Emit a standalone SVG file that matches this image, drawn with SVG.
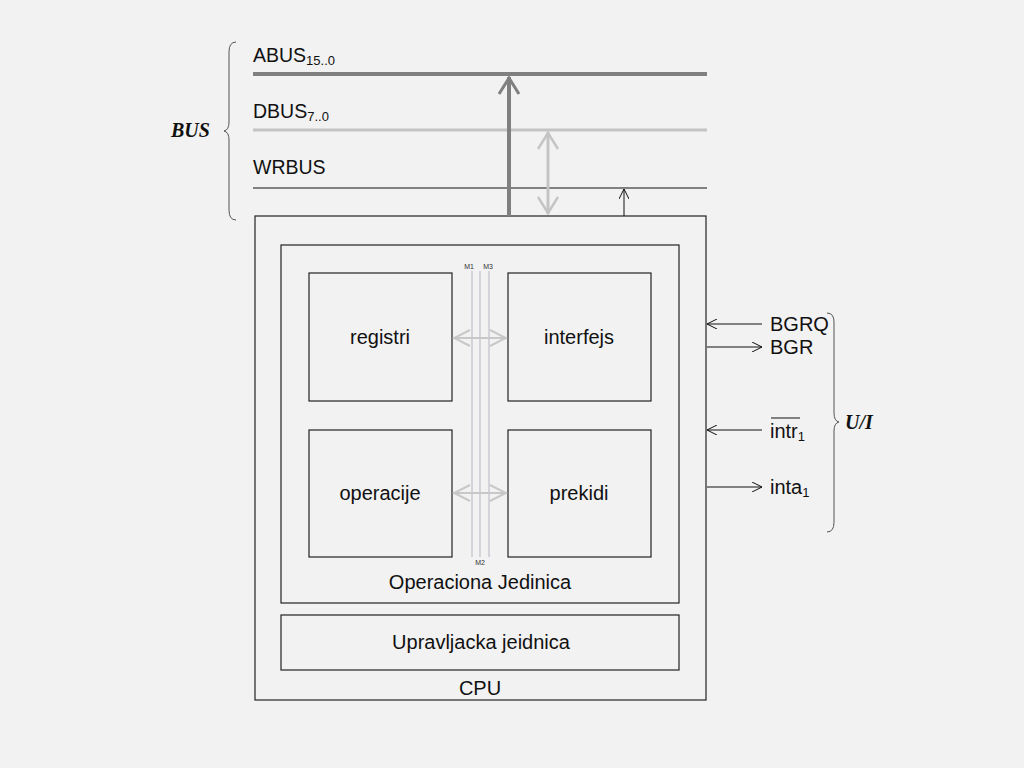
<svg xmlns="http://www.w3.org/2000/svg" width="1024" height="768" viewBox="0 0 1024 768">
<style>
.box{fill:none;stroke:#222;stroke-width:1.2}
.t{font-family:"Liberation Sans",Arial,sans-serif;font-size:20px;fill:#111}
.tbus{font-family:"Liberation Sans",Arial,sans-serif;font-size:19.5px;fill:#111}
.ts{font-size:13px}
.tm{font-family:"Liberation Sans",Arial,sans-serif;font-size:7px;fill:#333}
.tb{font-family:"Liberation Serif","Times New Roman",serif;font-size:20px;font-weight:bold;font-style:italic;fill:#111}
.thin{stroke:#111;stroke-width:1;fill:none}
.brace{stroke:#555;stroke-width:1;fill:none}
</style>
<defs>
<marker id="ah" viewBox="0 0 10 10" refX="10" refY="5" markerWidth="10" markerHeight="10" markerUnits="userSpaceOnUse" orient="auto-start-reverse">
<path d="M0,0 L10,5 L0,10" fill="none" stroke="#111" stroke-width="1"/>
</marker>
<marker id="ahA" viewBox="0 0 20 24" refX="19" refY="12" markerWidth="20" markerHeight="24" markerUnits="userSpaceOnUse" orient="auto-start-reverse">
<path d="M2,2 L18,12 L2,22" fill="none" stroke="#808080" stroke-width="3"/>
</marker>
<marker id="ahD" viewBox="0 0 20 24" refX="19" refY="12" markerWidth="20" markerHeight="24" markerUnits="userSpaceOnUse" orient="auto-start-reverse">
<path d="M2,2 L18,12 L2,22" fill="none" stroke="#c4c4c4" stroke-width="2.5"/>
</marker>
<marker id="ahM" viewBox="0 0 20 20" refX="19" refY="10" markerWidth="20" markerHeight="20" markerUnits="userSpaceOnUse" orient="auto-start-reverse">
<path d="M2,2 L18,10 L2,18" fill="none" stroke="#c8c8c8" stroke-width="2"/>
</marker>
</defs>
<rect width="1024" height="768" fill="#f2f2f2"/>

<g id="bus">
<line x1="253" y1="74" x2="707" y2="74" stroke="#808080" stroke-width="4"/>
<line x1="253" y1="130" x2="707" y2="130" stroke="#c4c4c4" stroke-width="3"/>
<line x1="253" y1="188" x2="707" y2="188" stroke="#111" stroke-width="1"/>
<text class="tbus" x="253" y="62">ABUS<tspan class="ts" dy="3">15..0</tspan></text>
<text class="tbus" x="253" y="118">DBUS<tspan class="ts" dy="3">7..0</tspan></text>
<text class="tbus" x="253" y="174">WRBUS</text>
<path class="brace" d="M236,42 Q229,42 229,52 L229,122 Q229,130 224,131 Q229,132 229,140 L229,210 Q229,220 236,220"/>
<text class="tb" x="171" y="137">BUS</text>
</g>

<g id="cpu">
<rect class="box" x="255" y="216" width="451" height="484"/>
<text class="t" x="480" y="695" text-anchor="middle">CPU</text>
</g>

<g id="oj">
<rect class="box" x="281" y="245" width="398" height="358"/>
<text class="t" x="480" y="589" text-anchor="middle">Operaciona Jedinica</text>
</g>

<g id="uj">
<rect class="box" x="281" y="615" width="398" height="55"/>
<text class="t" x="481" y="649" text-anchor="middle">Upravljacka jeidnica</text>
</g>

<g id="registri">
<rect class="box" x="309" y="273" width="143" height="128"/>
<text class="t" x="380" y="344" text-anchor="middle">registri</text>
</g>
<g id="interfejs">
<rect class="box" x="508" y="273" width="143" height="128"/>
<text class="t" x="579" y="344" text-anchor="middle">interfejs</text>
</g>
<g id="operacije">
<rect class="box" x="309" y="430" width="143" height="127"/>
<text class="t" x="380" y="500" text-anchor="middle">operacije</text>
</g>
<g id="prekidi">
<rect class="box" x="508" y="430" width="143" height="127"/>
<text class="t" x="579" y="500" text-anchor="middle">prekidi</text>
</g>

<g id="internal-bus">
<line x1="472" y1="271" x2="472" y2="557" stroke="#c8c8d0" stroke-width="1.5"/>
<line x1="480" y1="271" x2="480" y2="557" stroke="#c8c8d0" stroke-width="1.5"/>
<line x1="489" y1="271" x2="489" y2="557" stroke="#c8c8d0" stroke-width="1.5"/>
<text class="tm" x="469" y="269" text-anchor="middle">M1</text>
<text class="tm" x="488" y="269" text-anchor="middle">M3</text>
<text class="tm" x="480" y="565" text-anchor="middle">M2</text>
</g>

<g id="connectors">
<line x1="509" y1="216" x2="509" y2="77" stroke="#808080" stroke-width="4" marker-end="url(#ahA)"/>
<line x1="548" y1="214" x2="548" y2="132" stroke="#c4c4c4" stroke-width="3" marker-start="url(#ahD)" marker-end="url(#ahD)"/>
<line class="thin" x1="624" y1="216" x2="624" y2="189" marker-end="url(#ah)"/>
<line x1="453" y1="338" x2="507" y2="338" stroke="#c8c8c8" stroke-width="2" marker-start="url(#ahM)" marker-end="url(#ahM)"/>
<line x1="453" y1="493" x2="507" y2="493" stroke="#c8c8c8" stroke-width="2" marker-start="url(#ahM)" marker-end="url(#ahM)"/>
<line class="thin" x1="762" y1="324" x2="707" y2="324" marker-end="url(#ah)"/>
<line class="thin" x1="707" y1="347" x2="762" y2="347" marker-end="url(#ah)"/>
<line class="thin" x1="762" y1="430" x2="707" y2="430" marker-end="url(#ah)"/>
<line class="thin" x1="707" y1="487" x2="762" y2="487" marker-end="url(#ah)"/>
</g>

<g id="ui">
<text class="t" x="770" y="331">BGRQ</text>
<text class="t" x="770" y="354">BGR</text>
<text class="t" x="770" y="438">intr<tspan class="ts" dy="3">1</tspan></text>
<line x1="771" y1="418" x2="800" y2="418" stroke="#111" stroke-width="1"/>
<text class="t" x="770" y="494">inta<tspan class="ts" dy="3">1</tspan></text>
<path class="brace" d="M827,313 Q834,313 834,322 L834,413 Q834,421 839,422 Q834,423 834,431 L834,522 Q834,532 827,532"/>
<text class="tb" x="845" y="429">U/I</text>
</g>
</svg>
